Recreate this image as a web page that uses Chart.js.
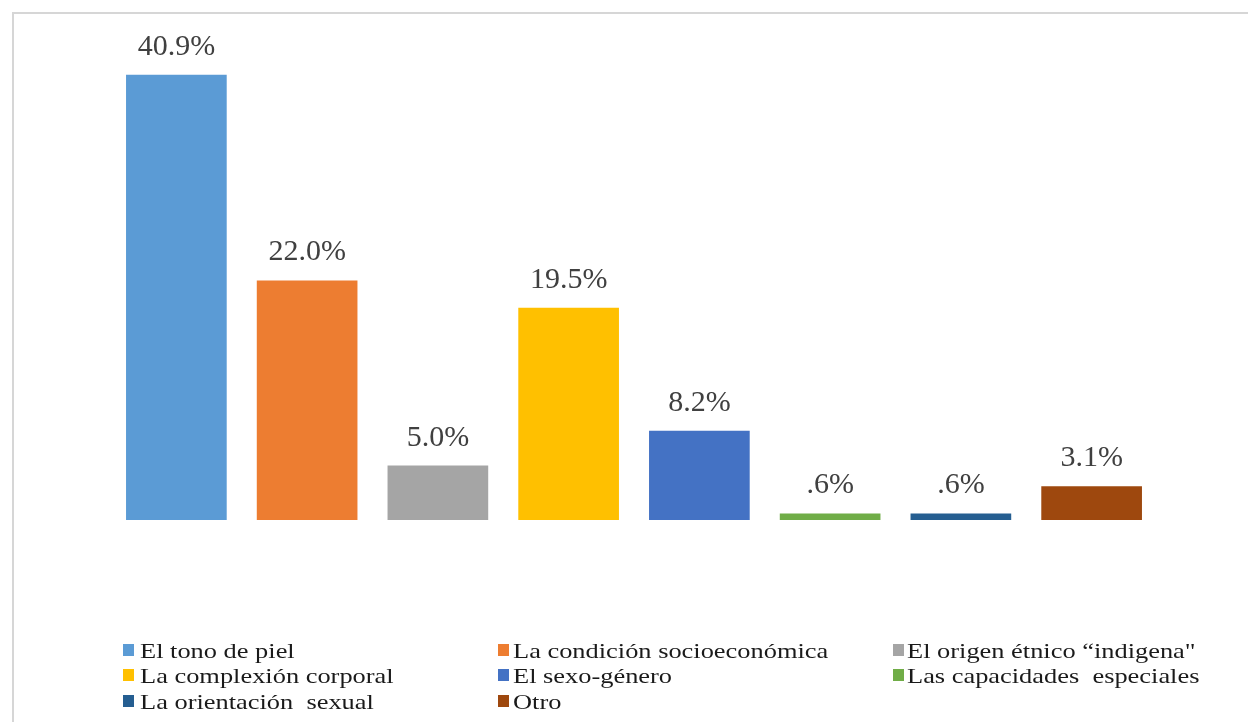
<!DOCTYPE html>
<html>
<head>
<meta charset="utf-8">
<script src="https://cdn.jsdelivr.net/npm/chart.js@4"></script>
<style>
  body { margin: 0; background: #fff; }
  #wrap { position: relative; width: 1248px; height: 722px; overflow: hidden; }
  #frame { position: absolute; left: 12px; top: 12px; width: 1240px; height: 720px;
           border-left: 2px solid #d6d6d6; border-top: 2px solid #d6d6d6; }
  canvas { position: absolute; left: 0; top: 0; }
  #legend { position: absolute; left: 0; top: 0; width: 1248px; height: 722px;
            font-family: "Liberation Serif", "Times New Roman", "DejaVu Serif", serif;
            font-size: 22px; color: #1a1a1a; }
  .sw { position: absolute; width: 11px; height: 12px; }
  .txt { position: absolute; white-space: pre; line-height: 24px;
         transform: scaleX(1.2); transform-origin: 0 50%; }
</style>
</head>
<body>
<div id="wrap">
  <div id="frame"></div>
  <canvas id="myChart" width="1248" height="722"></canvas>
  <div id="legend"></div>
</div>
<script>
var categories = ['El tono de piel', 'La condición socioeconómica', 'El origen étnico “indigena"',
    'La complexión corporal', 'El sexo-género', 'Las capacidades  especiales',
    'La orientación  sexual', 'Otro'];
var values = [40.9, 22.0, 5.0, 19.5, 8.2, 0.6, 0.6, 3.1];
var valueLabels = ['40.9%', '22.0%', '5.0%', '19.5%', '8.2%', '.6%', '.6%', '3.1%'];
var colors = ['#5B9BD5', '#ED7D31', '#A5A5A5', '#FFC000', '#4472C4', '#70AD47', '#255E91', '#9E480E'];

// value labels above bars
var labelPlugin = {
    id: 'valueLabels',
    afterDatasetsDraw: function(chart) {
        var ctx = chart.ctx;
        var meta = chart.getDatasetMeta(0);
        ctx.save();
        ctx.font = '30px "Liberation Serif", "Times New Roman", "DejaVu Serif", serif';
        ctx.fillStyle = '#404040';
        ctx.textAlign = 'center';
        ctx.textBaseline = 'alphabetic';
        meta.data.forEach(function(bar, i) {
            ctx.fillText(valueLabels[i], bar.x, bar.y - 20);
        });
        ctx.restore();
    }
};

var ctx = document.getElementById('myChart').getContext('2d');
var myChart = new Chart(ctx, {
    type: 'bar',
    data: {
        labels: categories,
        datasets: [{
            data: values,
            backgroundColor: colors,
            barPercentage: 0.77,
            categoryPercentage: 1.0
        }]
    },
    options: {
        responsive: false,
        animation: false,
        layout: { padding: { left: 111, right: 91, top: 30, bottom: 202 } },
        plugins: {
            legend: { display: false },
            tooltip: { enabled: false }
        },
        scales: {
            x: { display: false },
            y: { display: false, min: 0, max: 45 }
        }
    },
    plugins: [labelPlugin]
});

// legend in three columns
var swX = [123, 498, 893];
var txtX = [140, 513, 907];
var rowY = [651, 676, 702];
var legend = document.getElementById('legend');
categories.forEach(function(name, i) {
    var c = i % 3, r = Math.floor(i / 3);
    var s = document.createElement('div');
    s.className = 'sw';
    s.style.left = swX[c] + 'px';
    s.style.top = (rowY[r] - 7) + 'px';
    s.style.background = colors[i];
    legend.appendChild(s);
    var t = document.createElement('div');
    t.className = 'txt';
    t.style.left = txtX[c] + 'px';
    t.style.top = (rowY[r] - 12) + 'px';
    t.textContent = name;
    legend.appendChild(t);
});
</script>
</body>
</html>
